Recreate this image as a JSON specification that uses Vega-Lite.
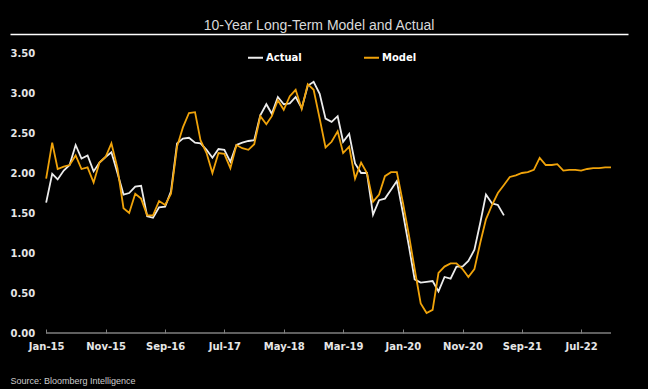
{
  "$schema": "https://vega.github.io/schema/vega-lite/v6.json",
  "width": 618,
  "height": 280,
  "autosize": {"type": "none"},
  "padding": {"left": 10, "top": 53, "right": 20, "bottom": 56},
  "background": "#000000",
  "config": {"view": {"stroke": null}},
  "title": {"text": "10-Year Long-Term Model and Actual", "font": "Liberation Sans", "fontSize": 14, "fontWeight": "normal", "color": "#d9d9d9", "anchor": "middle", "offset": 1},
  "data": {
    "format": {"parse": {"d": "date:'%Y-%m'"}},
    "values": [
      {"d":"2015-01","Actual":1.63,"Model":1.93},{"d":"2015-02","Actual":1.99,"Model":2.38},{"d":"2015-03","Actual":1.92,"Model":2.05},{"d":"2015-04","Actual":2.03,"Model":2.08},{"d":"2015-05","Actual":2.10,"Model":2.10},{"d":"2015-06","Actual":2.35,"Model":2.22},{"d":"2015-07","Actual":2.18,"Model":2.05},{"d":"2015-08","Actual":2.22,"Model":2.07},{"d":"2015-09","Actual":2.02,"Model":1.88},{"d":"2015-10","Actual":2.13,"Model":2.13},{"d":"2015-11","Actual":2.20,"Model":2.20},{"d":"2015-12","Actual":2.26,"Model":2.37},
      {"d":"2016-01","Actual":2.00,"Model":2.06},{"d":"2016-02","Actual":1.73,"Model":1.56},{"d":"2016-03","Actual":1.75,"Model":1.50},{"d":"2016-04","Actual":1.83,"Model":1.74},{"d":"2016-05","Actual":1.84,"Model":1.68},{"d":"2016-06","Actual":1.46,"Model":1.47},{"d":"2016-07","Actual":1.44,"Model":1.47},{"d":"2016-08","Actual":1.57,"Model":1.65},{"d":"2016-09","Actual":1.58,"Model":1.60},{"d":"2016-10","Actual":1.77,"Model":1.74},{"d":"2016-11","Actual":2.37,"Model":2.33},{"d":"2016-12","Actual":2.43,"Model":2.57},
      {"d":"2017-01","Actual":2.44,"Model":2.75},{"d":"2017-02","Actual":2.38,"Model":2.76},{"d":"2017-03","Actual":2.37,"Model":2.41},{"d":"2017-04","Actual":2.29,"Model":2.25},{"d":"2017-05","Actual":2.19,"Model":2.00},{"d":"2017-06","Actual":2.30,"Model":2.25},{"d":"2017-07","Actual":2.29,"Model":2.24},{"d":"2017-08","Actual":2.14,"Model":2.06},{"d":"2017-09","Actual":2.35,"Model":2.35},{"d":"2017-10","Actual":2.38,"Model":2.31},{"d":"2017-11","Actual":2.40,"Model":2.29},{"d":"2017-12","Actual":2.41,"Model":2.36},
      {"d":"2018-01","Actual":2.72,"Model":2.71},{"d":"2018-02","Actual":2.86,"Model":2.61},{"d":"2018-03","Actual":2.74,"Model":2.71},{"d":"2018-04","Actual":2.95,"Model":2.91},{"d":"2018-05","Actual":2.86,"Model":2.79},{"d":"2018-06","Actual":2.87,"Model":2.96},{"d":"2018-07","Actual":2.95,"Model":3.04},{"d":"2018-08","Actual":2.81,"Model":2.80},{"d":"2018-09","Actual":3.09,"Model":3.11},{"d":"2018-10","Actual":3.14,"Model":3.04},{"d":"2018-11","Actual":2.99,"Model":2.68},{"d":"2018-12","Actual":2.68,"Model":2.32},
      {"d":"2019-01","Actual":2.64,"Model":2.39},{"d":"2019-02","Actual":2.71,"Model":2.52},{"d":"2019-03","Actual":2.39,"Model":2.25},{"d":"2019-04","Actual":2.49,"Model":2.33},{"d":"2019-05","Actual":2.12,"Model":1.93},{"d":"2019-06","Actual":2.00,"Model":2.13},{"d":"2019-07","Actual":2.00,"Model":2.00},{"d":"2019-08","Actual":1.48,"Model":1.64},{"d":"2019-09","Actual":1.66,"Model":1.73},{"d":"2019-10","Actual":1.68,"Model":1.96},{"d":"2019-11","Actual":1.79,"Model":2.01},{"d":"2019-12","Actual":1.90,"Model":2.01},
      {"d":"2020-01","Actual":1.50,"Model":1.63},{"d":"2020-02","Actual":1.08,"Model":1.22},{"d":"2020-03","Actual":0.67,"Model":0.80},{"d":"2020-04","Actual":0.63,"Model":0.37},{"d":"2020-05","Actual":0.64,"Model":0.25},{"d":"2020-06","Actual":0.65,"Model":0.29},{"d":"2020-07","Actual":0.52,"Model":0.75},{"d":"2020-08","Actual":0.70,"Model":0.83},{"d":"2020-09","Actual":0.68,"Model":0.87},{"d":"2020-10","Actual":0.83,"Model":0.87},{"d":"2020-11","Actual":0.83,"Model":0.80},{"d":"2020-12","Actual":0.90,"Model":0.70},
      {"d":"2021-01","Actual":1.04,"Model":0.80},{"d":"2021-02","Actual":1.39,"Model":1.14},{"d":"2021-03","Actual":1.73,"Model":1.42},{"d":"2021-04","Actual":1.62,"Model":1.60},{"d":"2021-05","Actual":1.60,"Model":1.75},{"d":"2021-06","Actual":1.47,"Model":1.85},{"d":"2021-07","Model":1.95},{"d":"2021-08","Model":1.97},{"d":"2021-09","Model":2.00},{"d":"2021-10","Model":2.01},{"d":"2021-11","Model":2.04},{"d":"2021-12","Model":2.19},
      {"d":"2022-01","Model":2.10},{"d":"2022-02","Model":2.10},{"d":"2022-03","Model":2.11},{"d":"2022-04","Model":2.03},{"d":"2022-05","Model":2.04},{"d":"2022-06","Model":2.04},{"d":"2022-07","Model":2.03},{"d":"2022-08","Model":2.05},{"d":"2022-09","Model":2.06},{"d":"2022-10","Model":2.06},{"d":"2022-11","Model":2.07},{"d":"2022-12","Model":2.07}
    ]
  },
  "resolve": {"axis": {"x": "independent"}},
  "layer": [
    {
      "mark": {"type": "rule", "color": "#7f7f7f", "strokeWidth": 1.5},
      "encoding": {
        "x": {"aggregate": "min", "field": "d", "type": "temporal",
          "scale": {"domain": [{"year": 2014, "month": 6, "date": 30}, {"year": 2023, "month": 2, "date": 26}]},
          "axis": {"orient": "top", "labels": false, "ticks": false, "grid": false, "domain": true, "domainColor": "#ffffff", "domainWidth": 1.5, "offset": 19, "title": null}},
        "x2": {"aggregate": "max", "field": "d"},
        "y": {"datum": 0, "type": "quantitative",
          "scale": {"domain": [0, 3.5], "nice": false},
          "axis": {"values": [0, 0.5, 1, 1.5, 2, 2.5, 3, 3.5], "format": ".2f", "grid": false, "domain": false, "ticks": false, "tickSize": 0,
            "labelOverlap": false, "labelBound": false, "labelFlush": false,
            "labelAlign": "left", "labelPadding": 0, "labelFont": "DejaVu Sans", "labelFontWeight": "bold", "labelFontSize": 10, "labelColor": "#e6e6e6", "title": null}}
      }
    },
    {
      "transform": [
        {"fold": ["Actual", "Model"], "as": ["series", "value"]},
        {"filter": "isValid(datum.value)"}
      ],
      "mark": {"type": "line", "strokeWidth": 1.8},
      "encoding": {
        "x": {"field": "d", "type": "temporal",
          "scale": {"domain": [{"year": 2014, "month": 6, "date": 30}, {"year": 2023, "month": 2, "date": 26}]},
          "axis": {
            "orient": "bottom",
            "values": [{"year":2015,"month":1,"date":1},{"year":2015,"month":11,"date":1},{"year":2016,"month":9,"date":1},{"year":2017,"month":7,"date":1},{"year":2018,"month":5,"date":1},{"year":2019,"month":3,"date":1},{"year":2020,"month":1,"date":1},{"year":2020,"month":11,"date":1},{"year":2021,"month":9,"date":1},{"year":2022,"month":7,"date":1}],
            "format": "%b-%y",
            "grid": false, "domain": false, "labelOverlap": false,
            "ticks": true, "tickColor": "#808080", "tickSize": -4, "tickWidth": 1,
            "labelFont": "DejaVu Sans", "labelFontWeight": "bold", "labelFontSize": 10, "labelColor": "#e6e6e6", "labelPadding": 12,
            "title": "Source: Bloomberg Intelligence", "titleFont": "Liberation Sans", "titleFontSize": 9, "titleFontWeight": "normal", "titleColor": "#cccccc",
            "titleAnchor": "start", "titleAlign": "left", "titleX": 0, "titleY": 47, "titleBaseline": "middle"
          }},
        "y": {"field": "value", "type": "quantitative",
          "scale": {"domain": [0, 3.5], "nice": false},
          "axis": {"values": [0, 0.5, 1, 1.5, 2, 2.5, 3, 3.5], "format": ".2f", "grid": false, "domain": false, "ticks": false, "tickSize": 0,
            "labelOverlap": false, "labelBound": false, "labelFlush": false,
            "labelAlign": "left", "labelPadding": 0, "labelFont": "DejaVu Sans", "labelFontWeight": "bold", "labelFontSize": 10, "labelColor": "#e6e6e6", "title": null}},
        "color": {"field": "series", "type": "nominal",
          "scale": {"domain": ["Actual", "Model"], "range": ["#ececec", "#f0a30a"]},
          "legend": {"orient": "none", "legendX": 237, "legendY": -4, "direction": "horizontal", "title": null,
            "symbolType": "stroke", "symbolStrokeWidth": 2, "symbolSize": 225, "labelColor": "#ffffff", "labelFont": "DejaVu Sans", "labelFontWeight": "bold", "labelFontSize": 10, "labelOffset": 2, "columnPadding": 58}}
      }
    }
  ]
}
